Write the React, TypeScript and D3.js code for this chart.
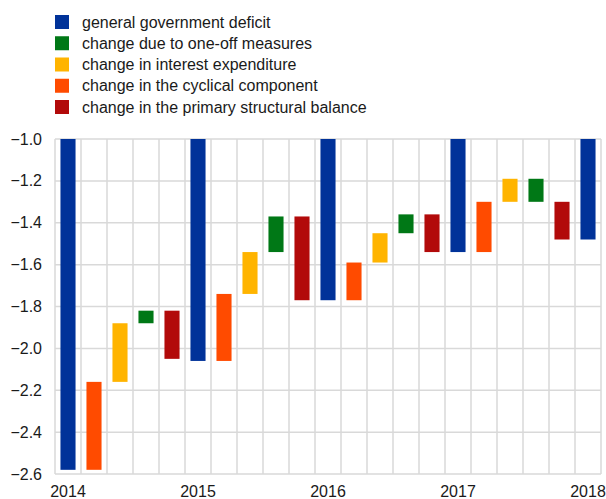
import React from "react";
import * as d3 from "d3";

const years = ["2014", "2015", "2016", "2017", "2018"];
const deficit = [-2.58, -2.06, -1.77, -1.54, -1.48];
const cyclical = [0.42, 0.32, 0.18, 0.24];
const interest = [0.28, 0.2, 0.14, 0.11];
const oneOff = [0.06, 0.17, 0.09, -0.11];
const primary = [-0.23, -0.4, -0.18, -0.18];
const yTicks = [-1.0, -1.2, -1.4, -1.6, -1.8, -2.0, -2.2, -2.4, -2.6];

const seriesNames = [
  "general government deficit",
  "change due to one-off measures",
  "change in interest expenditure",
  "change in the cyclical component",
  "change in the primary structural balance",
];
const colors = ["#003299", "#007816", "#FFB400", "#FF4B00", "#B20A0A"];

type Bar = { key: string; y0: number; y1: number; color: string };

function buildBars(): Bar[] {
  const bars: Bar[] = [];
  years.forEach((yr, i) => {
    bars.push({ key: `d${i}`, y0: 0, y1: deficit[i], color: colors[0] });
    if (i < years.length - 1) {
      let cur = deficit[i];
      const steps: [number[], string][] = [
        [cyclical, colors[3]],
        [interest, colors[2]],
        [oneOff, colors[1]],
        [primary, colors[4]],
      ];
      steps.forEach(([arr, c], j) => {
        const next = cur + arr[i];
        bars.push({ key: `c${i}_${j}`, y0: cur, y1: next, color: c });
        cur = next;
      });
    }
  });
  return bars;
}

export default function App() {
  const W = 606;
  const H = 499;
  const left = 55;
  const right = 601;
  const top = 139;
  const bottom = 474;
  const bars = buildBars();
  const x = d3
    .scaleBand<string>()
    .domain(bars.map((b) => b.key))
    .range([left, right])
    .paddingInner(0.42)
    .paddingOuter(0.21);
  const step = (right - left) / bars.length;
  const y = d3.scaleLinear().domain([-2.6, -1.0]).range([bottom, top]);
  const clampY = (v: number) => y(Math.min(-1.0, Math.max(-2.6, v)));
  const font = "Liberation Sans, Arial, sans-serif";

  return (
    <svg
      width={W}
      height={H}
      style={{ position: "absolute", left: 0, top: 0 }}
      fontFamily={font}
    >
      <rect width={W} height={H} fill="#fff" />
      {/* legend */}
      {seriesNames.map((n, i) => (
        <g key={n} transform={`translate(55, ${15 + i * 21.25})`}>
          <rect width={14} height={14} fill={colors[i]} />
          <text x={27} y={12.5} fontSize={16} fill="#1a1a1a">
            {n}
          </text>
        </g>
      ))}
      {/* grid */}
      {yTicks.map((t) => (
        <line
          key={`h${t}`}
          x1={left}
          x2={right}
          y1={y(t)}
          y2={y(t)}
          stroke="#d9d9d9"
          strokeWidth={1.5}
        />
      ))}
      {d3.range(bars.length + 1).map((i) => (
        <line
          key={`v${i}`}
          x1={left + i * step}
          x2={left + i * step}
          y1={top}
          y2={bottom}
          stroke="#d9d9d9"
          strokeWidth={1.5}
        />
      ))}
      {/* bars */}
      {bars.map((b) => {
        const ya = clampY(b.y0);
        const yb = clampY(b.y1);
        return (
          <rect
            key={b.key}
            x={x(b.key)}
            width={x.bandwidth()}
            y={Math.min(ya, yb)}
            height={Math.abs(yb - ya)}
            fill={b.color}
          />
        );
      })}
      {/* y labels */}
      {yTicks.map((t) => (
        <text
          key={`yl${t}`}
          x={42}
          y={y(t) + 5.5}
          textAnchor="end"
          fontSize={16}
          fill="#1a1a1a"
        >
          {d3.format(".1f")(t)}
        </text>
      ))}
      {/* x labels */}
      {years.map((yr, i) => {
        const key = `d${i}`;
        return (
          <text
            key={yr}
            x={(x(key) as number) + x.bandwidth() / 2}
            y={497}
            textAnchor="middle"
            fontSize={16}
            fill="#1a1a1a"
          >
            {yr}
          </text>
        );
      })}
    </svg>
  );
}
